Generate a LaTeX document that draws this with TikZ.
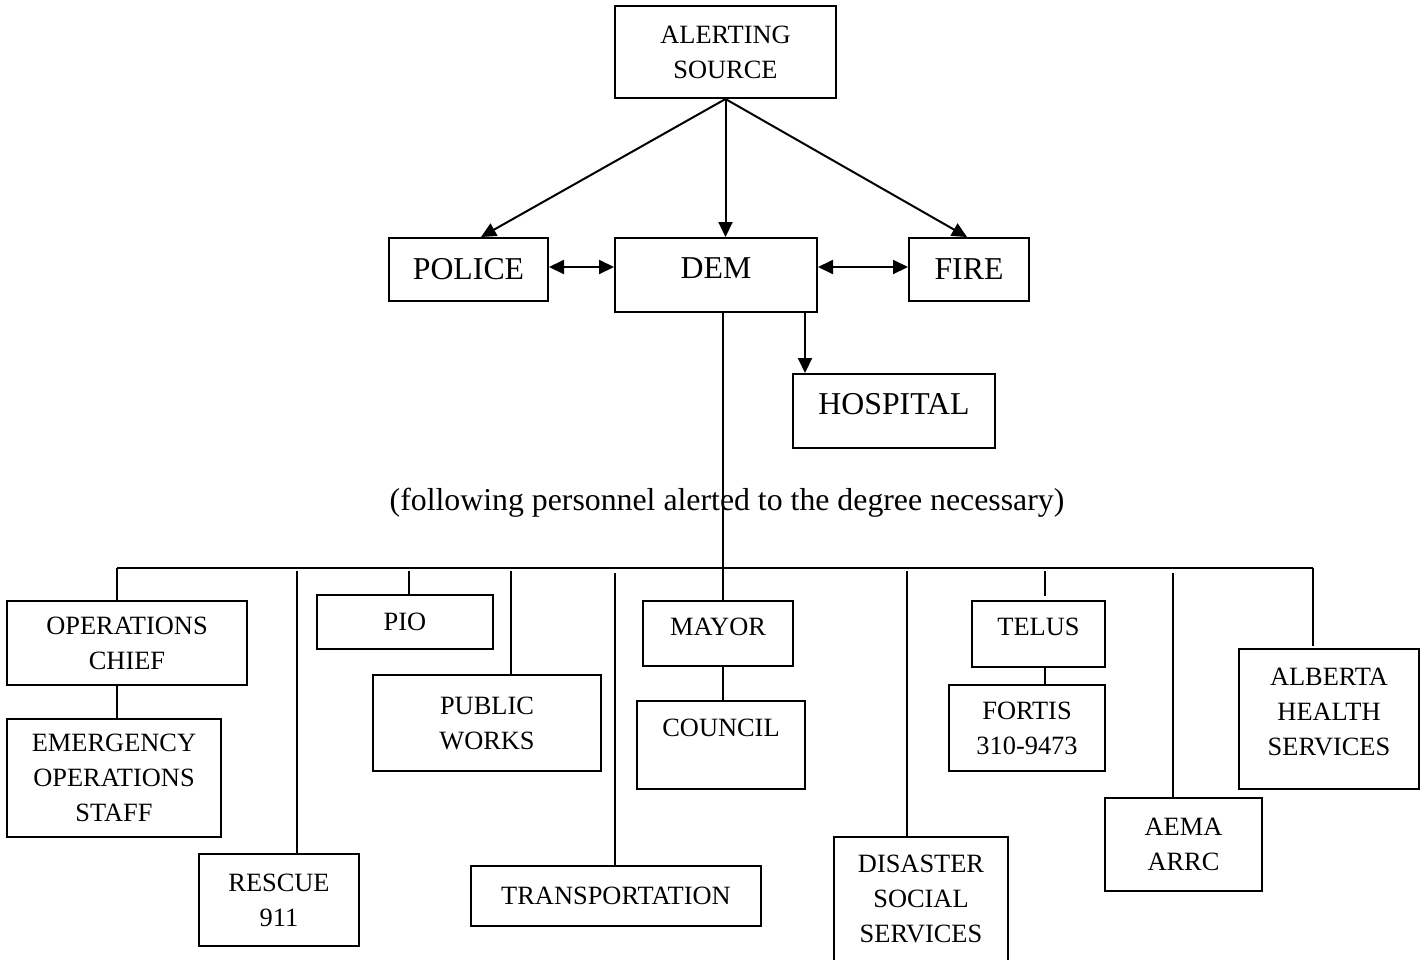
\documentclass[tikz,border=0pt]{standalone}
\usepackage{fontspec}
\setmainfont{Liberation Serif}
\usetikzlibrary{arrows.meta}
\newcommand\smfont{\fontsize{13.2}{17.5}\selectfont}
\newcommand\bgfont{\fontsize{15.9}{19}\selectfont}
\begin{document}
\begin{tikzpicture}[x=0.5pt,y=-0.5pt,
  box/.style={draw, line width=1pt, inner sep=0pt, align=center, font=\smfont},
  bigbox/.style={box, font=\bgfont},
  txt/.style={inner sep=0pt, align=center, font=\smfont},
  bigtxt/.style={inner sep=0pt, align=center, font=\bgfont},
  conn/.style={line width=1pt},
  arr/.style={line width=1pt, -{Triangle[length=7.5pt,width=7pt]}},
  darr/.style={line width=1pt, {Triangle[length=7.5pt,width=7pt]}-{Triangle[length=7.5pt,width=7pt]}}]
\useasboundingbox (0,0) rectangle (1423,959);

% top part
\node[box, minimum width=110.5pt, minimum height=46pt] (src) at (725.5,52) {ALERTING\\SOURCE};
\node[bigbox, minimum width=79.5pt, minimum height=31.5pt] (police) at (468.5,269.5) {POLICE};
\node[box, minimum width=101pt, minimum height=37pt] (dem) at (716,275) {};
\node[bigtxt] (demtxt) at (dem.center |- 0,268) {DEM};
\node[bigbox, minimum width=60pt, minimum height=31.5pt] (fire) at (969,269.5) {FIRE};
\node[box, minimum width=101pt, minimum height=37pt] (hosp) at (894,411) {};
\node[bigtxt] (hosptxt) at (hosp.center |- 0,404) {HOSPITAL};

\draw[arr] (src.south) -- (police.north -| 481,0);
\draw[arr] (src.south) -- (dem.north -| src.south);
\draw[arr] (src.south) -- (fire.north -| 967,0);
\draw[darr] (police.east |- 0,267) -- (dem.west |- 0,267);
\draw[darr] (dem.east |- 0,267) -- (fire.west |- 0,267);
\draw[arr] (dem.south -| 805,0) -- (hosp.north -| 805,0);

\node[bigtxt] (note) at (727,503) {(following personnel alerted to the degree necessary)};

% bottom boxes
\node[box, minimum width=120pt, minimum height=42pt] (ops) at (127,643) {OPERATIONS\\CHIEF};
\node[box, minimum width=107pt, minimum height=59pt] (eos) at (114,778) {EMERGENCY\\OPERATIONS\\STAFF};
\node[box, minimum width=80pt, minimum height=46pt] (rescue) at (279,900) {RESCUE\\911};
\node[box, minimum width=88pt, minimum height=27pt] (pio) at (405,622) {PIO};
\node[box, minimum width=114pt, minimum height=48pt] (pw) at (487,723) {PUBLIC\\WORKS};
\node[box, minimum width=145pt, minimum height=30pt] (trans) at (616,896) {TRANSPORTATION};
\node[box, minimum width=75pt, minimum height=32.5pt] (mayor) at (718,633.5) {};
\node[txt] (mayortxt) at (mayor.center |- 0,627) {MAYOR};
\node[box, minimum width=84pt, minimum height=44pt] (council) at (721,745) {};
\node[txt] (counciltxt) at (council.center |- 0,728) {COUNCIL};
\node[box, minimum width=87pt, minimum height=76.5pt] (dss) at (921,913.5) {};
\node[txt] (dsstxt) at (dss.center |- 0,899) {DISASTER\\SOCIAL\\SERVICES};
\node[box, minimum width=66.5pt, minimum height=33pt] (telus) at (1038.5,634) {};
\node[txt] (telustxt) at (telus.center |- 0,627) {TELUS};
\node[box, minimum width=78pt, minimum height=43pt] (fortis) at (1027,728) {FORTIS\\310-9473};
\node[box, minimum width=78.5pt, minimum height=46.5pt] (aema) at (1183.5,844.5) {AEMA\\ARRC};
\node[box, minimum width=90pt, minimum height=70pt] (ahs) at (1329,719) {};
\node[txt] (ahstxt) at (ahs.center |- 0,711.5) {ALBERTA\\HEALTH\\SERVICES};

% trunk and bus
\draw[conn] (dem.south -| 723,0) -- (mayor.north -| 723,0);
\draw[conn] (117,568) coordinate (busL) -- (1313,568) coordinate (busR);

\coordinate (dRescue) at (297,571);
\coordinate (dPio) at (409,571);
\coordinate (dPw) at (511,571);
\coordinate (dTrans) at (615,573);
\coordinate (dDss) at (907,571);
\coordinate (dTelus) at (1045,571);
\coordinate (eTelus) at (1045,596);
\coordinate (dAema) at (1173,573);
\coordinate (eAhs) at (1313,646);

\draw[conn] (busL) -- (busL |- ops.north);
\draw[conn] (ops.south -| busL) -- (eos.north -| busL);
\draw[conn] (dRescue) -- (dRescue |- rescue.north);
\draw[conn] (dPio) -- (dPio |- pio.north);
\draw[conn] (dPw) -- (dPw |- pw.north);
\draw[conn] (dTrans) -- (dTrans |- trans.north);
\draw[conn] (mayor.south -| 723,0) -- (council.north -| 723,0);
\draw[conn] (dDss) -- (dDss |- dss.north);
\draw[conn] (dTelus) -- (eTelus);
\draw[conn] (telus.south -| dTelus) -- (fortis.north -| dTelus);
\draw[conn] (dAema) -- (dAema |- aema.north);
\draw[conn] (busR) -- (eAhs);
\end{tikzpicture}
\end{document}
